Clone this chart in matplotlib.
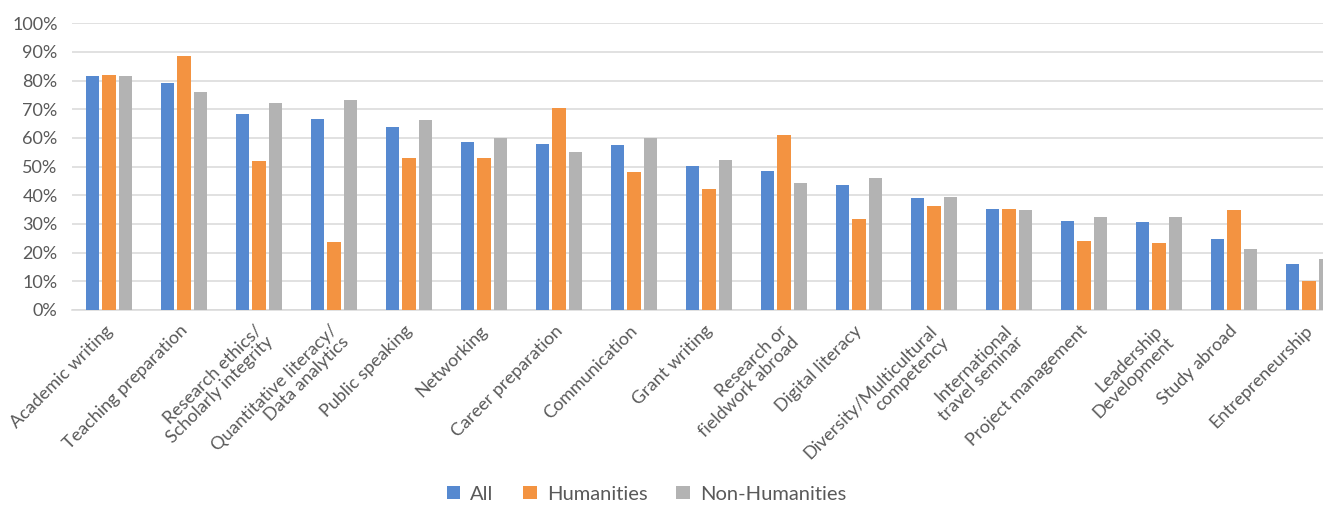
import numpy as np
import matplotlib
matplotlib.use("Agg")
import matplotlib.pyplot as plt
from matplotlib.ticker import PercentFormatter
from matplotlib.transforms import ScaledTranslation

plt.rcParams['font.family'] = ['Lato', 'DejaVu Sans']

categories = [
    "Academic writing", "Teaching preparation", "Research ethics/\nScholarly integrity",
    "Quantitative literacy/\nData analytics", "Public speaking", "Networking",
    "Career preparation", "Communication", "Grant writing",
    "Research or\nfieldwork abroad", "Digital literacy", "Diversity/Multicultural\ncompetency",
    "International\ntravel seminar", "Project management", "Leadership\nDevelopment",
    "Study abroad", "Entrepreneurship",
]
all_vals = [81.7, 79.1, 68.2, 66.7, 63.7, 58.6, 58.0, 57.6, 50.1, 48.4, 43.5, 38.9, 35.1, 31.0, 30.7, 24.9, 16.2]
hum_vals = [82.0, 88.7, 52.0, 23.8, 53.0, 53.0, 70.6, 48.3, 42.1, 60.9, 31.6, 36.4, 35.2, 24.1, 23.3, 34.9, 10.1]
non_vals = [81.7, 75.9, 72.1, 73.2, 66.3, 60.1, 55.1, 60.1, 52.3, 44.4, 45.9, 39.5, 34.8, 32.6, 32.3, 21.3, 17.7]
series = ["All", "Humanities", "Non-Humanities"]
colors = ["#5689D0", "#F39341", "#B3B3B3"]

W, H = 1323, 505
fig = plt.figure(figsize=(W / 100, H / 100), dpi=100)
# plot area runs past the right edge, the last group gets clipped
ax = fig.add_axes([71.5 / W, (H - 310) / H, 1275 / W, 286.7 / H])

x = np.arange(len(categories))
step = 0.222
for i, (vals, name, c) in enumerate(zip([all_vals, hum_vals, non_vals], series, colors)):
    ax.bar(x + (i - 1) * step, vals, width=0.18, color=c, label=name, zorder=3)

ax.set_xlim(-0.5, len(categories) - 0.5)
ax.set_ylim(0, 100)
ax.set_yticks(np.arange(0, 101, 10))
ax.yaxis.set_major_formatter(PercentFormatter(decimals=0))
ax.grid(axis='y', color='#D9D9D9', linewidth=1.1, zorder=0)
for s in ['top', 'right', 'left']:
    ax.spines[s].set_visible(False)
ax.spines['bottom'].set_color('#D9D9D9')
ax.spines['bottom'].set_linewidth(1.1)

ax.tick_params(axis='y', length=0, pad=10, labelsize=13, labelcolor='#595959')
ax.tick_params(axis='x', length=0, pad=9, labelcolor='#595959')
ax.set_xticks(x)
ax.set_xticklabels(categories, rotation=45, ha='right', va='top',
                   rotation_mode='anchor', multialignment='right', fontsize=13,
                   linespacing=1.0)
shift = ScaledTranslation(-5 / 100, 0, fig.dpi_scale_trans)
for lbl in ax.get_xticklabels():
    lbl.set_transform(lbl.get_transform() + shift)

fig.legend(loc='center', bbox_to_anchor=(646.5 / W, 11 / H), ncol=3, frameon=False,
           fontsize=14.5, handlelength=0.68, handleheight=0.68, handletextpad=0.5,
           columnspacing=1.45, labelcolor='#595959')

fig.savefig("out.png", dpi=100)
